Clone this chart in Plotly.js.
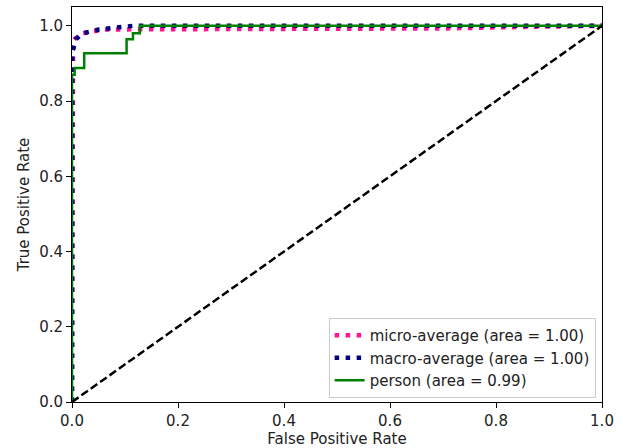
<!DOCTYPE html>
<html><head><meta charset="utf-8">
<script src="https://cdn.plot.ly/plotly-3.0.1.min.js"></script>
<style>html,body{margin:0;padding:0;background:#fff}#chart{width:622px;height:448px}</style>
</head><body><div id="chart"></div>
<script>
const microFpr = [0, 0, 0, 0.002, 0.005, 0.01, 0.02, 0.04, 0.06, 0.1, 0.12, 0.2, 0.4, 0.5, 0.7, 0.85, 1.0];
const microTpr = [0, 0.5, 0.955, 0.96, 0.965, 0.97, 0.98, 0.985, 0.99, 0.99, 0.991, 0.991, 0.992, 0.992, 0.993, 0.997, 1.0];
const macroFpr = [0, 0, 0.0005, 0.008, 0.02, 0.05, 0.09, 0.115, 1.0];
const macroTpr = [0, 0.9, 0.93, 0.965, 0.98, 0.99, 0.995, 1.0, 1.0];
const personFpr = [0, 0, 0.005, 0.005, 0.023, 0.023, 0.103, 0.103, 0.115, 0.115, 0.128, 0.128, 1.0];
const personTpr = [0, 0.87, 0.87, 0.888, 0.888, 0.927, 0.927, 0.964, 0.964, 0.98, 0.98, 1.0, 1.0];
const diagX = [0, 1];
const diagY = [0, 1];
const names = ['micro-average (area = 1.00)', 'macro-average (area = 1.00)', 'person (area = 0.99)'];

const font = {family: 'DejaVu Sans', size: 15, color: '#222'};
const traces = [
  {x: microFpr, y: microTpr, name: names[0], mode: 'lines', line: {color: '#ff1493', width: 4.5, dash: '4.5px,6.5px'}},
  {x: macroFpr, y: macroTpr, name: names[1], mode: 'lines', line: {color: '#000080', width: 4.5, dash: '4.5px,6.5px'}},
  {x: personFpr, y: personTpr, name: names[2], mode: 'lines', line: {color: '#008000', width: 2.5}},
  {x: diagX, y: diagY, mode: 'lines', showlegend: false, line: {color: '#000', width: 2.5, dash: '8px,3.5px'}}
];
const axisBase = {showgrid: false, zeroline: false, showline: true, mirror: true, linecolor: '#000', linewidth: 1,
  ticks: 'outside', ticklen: 5, tickcolor: '#000', tickfont: font, tickformat: '.1f'};
const layout = {
  width: 622, height: 448,
  margin: {l: 72, r: 20, t: 7, b: 46},
  paper_bgcolor: '#fff', plot_bgcolor: '#fff',
  font: font,
  xaxis: Object.assign({}, axisBase, {range: [0, 1], dtick: 0.2, title: {text: 'False Positive Rate', font: font, standoff: 4}}),
  yaxis: Object.assign({}, axisBase, {range: [0, 1.05], tickvals: [0, 0.2, 0.4, 0.6, 0.8, 1.0], title: {text: 'True Positive Rate', font: font, standoff: 5}}),
  legend: {x: 0.988, y: 0.01, xanchor: 'right', yanchor: 'bottom', bgcolor: 'rgba(255,255,255,0.8)', bordercolor: '#ccc', borderwidth: 1, font: font, tracegroupgap: 0, itemwidth: 30},
  showlegend: true
};
Plotly.newPlot('chart', traces, layout, {staticPlot: true});
</script></body></html>
